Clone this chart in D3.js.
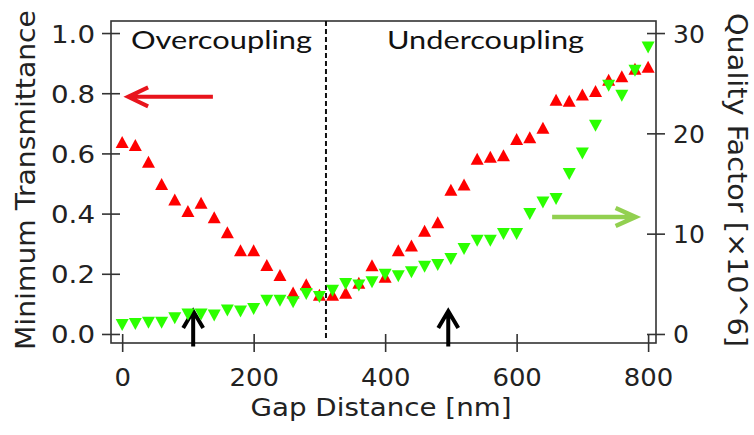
<!DOCTYPE html>
<html><head><meta charset="utf-8">
<script src="https://cdn.jsdelivr.net/npm/d3@7/dist/d3.min.js"></script>
<style>body{margin:0;background:#fff}svg{display:block}</style>
</head><body>
<svg id="c" width="754" height="435"></svg>
<script>
// ---- data ----
const gaps = [0,20,40,60,80,100,120,140,160,180,200,220,240,260,280,300,320,340,360,380,400,
              420,440,460,480,500,520,540,560,580,600,620,640,660,680,700,720,740,760,780,800];
const minTransmittance = [0.638,0.628,0.572,0.498,0.447,0.409,0.436,0.388,0.338,0.278,0.278,
              0.229,0.196,0.138,0.165,0.130,0.130,0.137,0.170,0.228,0.190,0.278,0.294,0.343,
              0.371,0.479,0.497,0.582,0.589,0.594,0.648,0.654,0.685,0.778,0.775,0.796,0.807,
              0.845,0.856,0.881,0.888];
const qualityFactor = [0.90,1.00,1.13,1.13,1.56,1.93,1.93,1.83,2.33,2.23,2.49,3.32,3.32,3.16,
              3.99,3.69,4.32,4.98,4.82,5.15,5.91,5.75,6.15,6.71,6.88,7.47,8.47,9.30,9.30,9.97,
              9.97,11.96,13.10,13.45,15.95,18.00,20.76,24.75,23.75,26.24,28.57];
const xTicks = [0,200,400,600,800];
const leftTicks = [0,0.2,0.4,0.6,0.8,1.0];
const rightTicks = [0,10,20,30];
const regionLabels = ["Overcoupling","Undercoupling"];
const boundaryGap = 310;
const markedGaps = [108,496];
const xTitle = "Gap Distance [nm]";
const leftTitle = "Minimum Transmittance";
const rightTitle = "Quality Factor [\u00d710^6]";

// ---- layout ----
const svg = d3.select("#c");
const plot = {left:111,right:656,top:21,bottom:343};
const x = d3.scaleLinear().domain([-17,812]).range([plot.left,plot.right]);
const yL = d3.scaleLinear().domain([-0.03,1.04]).range([plot.bottom,plot.top]);
const yR = d3.scaleLinear().domain([-0.9,31.2]).range([plot.bottom,plot.top]);
const FONT = "'DejaVu Sans', Verdana, sans-serif";
const ink = "#222";

// frame
const frame = svg.append("g").attr("stroke","#333").attr("stroke-width",1.6).attr("fill","none");
frame.append("rect").attr("x",plot.left).attr("y",plot.top)
  .attr("width",plot.right-plot.left).attr("height",plot.bottom-plot.top);

// axes
function styleAxis(g,size){
  g.select(".domain").remove();
  g.selectAll(".tick line").attr("stroke","#333").attr("stroke-width",1.6);
  g.selectAll(".tick text").attr("fill",ink).style("font-family",FONT).style("font-size",size+"px");
}
const gx = svg.append("g").attr("transform",`translate(0,${plot.bottom})`)
  .call(d3.axisBottom(x).tickValues(xTicks).tickFormat(d3.format("d")).tickSize(9));
styleAxis(gx,24);
gx.selectAll(".tick line").attr("y1",-9).attr("y2",9);
gx.selectAll(".tick text").attr("y",43).attr("dy",0)
  .attr("textLength",d=>String(d).length*16.5).attr("lengthAdjust","spacingAndGlyphs");

const gl = svg.append("g").attr("transform",`translate(${plot.left},0)`)
  .call(d3.axisLeft(yL).tickValues(leftTicks).tickFormat(d3.format(".1f")).tickSize(9));
styleAxis(gl,25);
gl.selectAll(".tick line").attr("x1",-9).attr("x2",9);
gl.selectAll(".tick text").attr("x",-16).attr("dy","0.36em")
  .attr("textLength",44).attr("lengthAdjust","spacingAndGlyphs");

const gr = svg.append("g").attr("transform",`translate(${plot.right},0)`)
  .call(d3.axisRight(yR).tickValues(rightTicks).tickFormat(d3.format("d")).tickSize(9));
styleAxis(gr,25);
gr.selectAll(".tick line").attr("x1",-9).attr("x2",9);
gr.selectAll(".tick text").attr("x",17).attr("dy","0.36em");

// titles
svg.append("text").text(xTitle).attr("x",381).attr("y",416).attr("text-anchor","middle")
  .attr("fill",ink).style("font-family",FONT).style("font-size","24.5px")
  .attr("textLength",261).attr("lengthAdjust","spacingAndGlyphs");
svg.append("text").text(leftTitle).attr("transform","translate(35,180) rotate(-90)")
  .attr("text-anchor","middle").attr("fill",ink).style("font-family",FONT).style("font-size","26px")
  .attr("textLength",340).attr("lengthAdjust","spacingAndGlyphs");
svg.append("text").text(rightTitle).attr("transform","translate(728,180) rotate(90)")
  .attr("text-anchor","middle").attr("fill",ink).style("font-family",FONT).style("font-size","26px")
  .attr("textLength",334).attr("lengthAdjust","spacingAndGlyphs");

// boundary
svg.append("line").attr("x1",x(boundaryGap)).attr("x2",x(boundaryGap))
  .attr("y1",plot.top).attr("y2",plot.bottom-3)
  .attr("stroke","#111").attr("stroke-width",2).attr("stroke-dasharray","5,3");

// region labels
const regionX = [131,387], regionW = [181,197];
svg.selectAll("text.region").data(regionLabels).join("text").attr("class","region")
  .text(d=>d).attr("x",(d,i)=>regionX[i]).attr("y",49)
  .attr("fill","#111").style("font-family","Lato, 'Open Sans', sans-serif").style("font-size","25px")
  .attr("textLength",(d,i)=>regionW[i]).attr("lengthAdjust","spacingAndGlyphs");

// arrows
function arrow(x1,y1,x2,y2,len,hw,color,sw){
  const dx=x2-x1, dy=y2-y1, L=Math.hypot(dx,dy), ux=dx/L, uy=dy/L;
  const bx=x2-ux*len, by=y2-uy*len;
  const p=d3.path();
  p.moveTo(x1,y1); p.lineTo(x2,y2);
  p.moveTo(bx-uy*hw,by+ux*hw); p.lineTo(x2,y2); p.lineTo(bx+uy*hw,by-ux*hw);
  svg.append("path").attr("d",p.toString()).attr("fill","none").attr("stroke",color)
    .attr("stroke-width",sw).attr("stroke-linejoin","miter");
}
arrow(x(138),yL(0.788),x(9),yL(0.788),20,9.5,"#e8141c",4);
arrow(x(654),yR(11.66),x(781),yR(11.66),20,9,"#92d050",4.5);
markedGaps.forEach(g=>arrow(x(g),yL(-0.042),x(g),yL(0.076),17,10,"#000",4));

// markers
const up = "M0,-6L6.5,6L-6.5,6Z", down = "M0,6L6.5,-6L-6.5,-6Z";
svg.append("g").selectAll("path").data(gaps).join("path")
  .attr("d",up).attr("fill","#ff0000")
  .attr("transform",(d,i)=>`translate(${x(d)},${yL(minTransmittance[i])})`);
svg.append("g").selectAll("path").data(gaps).join("path")
  .attr("d",down).attr("fill","#2bff00")
  .attr("transform",(d,i)=>`translate(${x(d)},${yR(qualityFactor[i])})`);
</script>
</body></html>
